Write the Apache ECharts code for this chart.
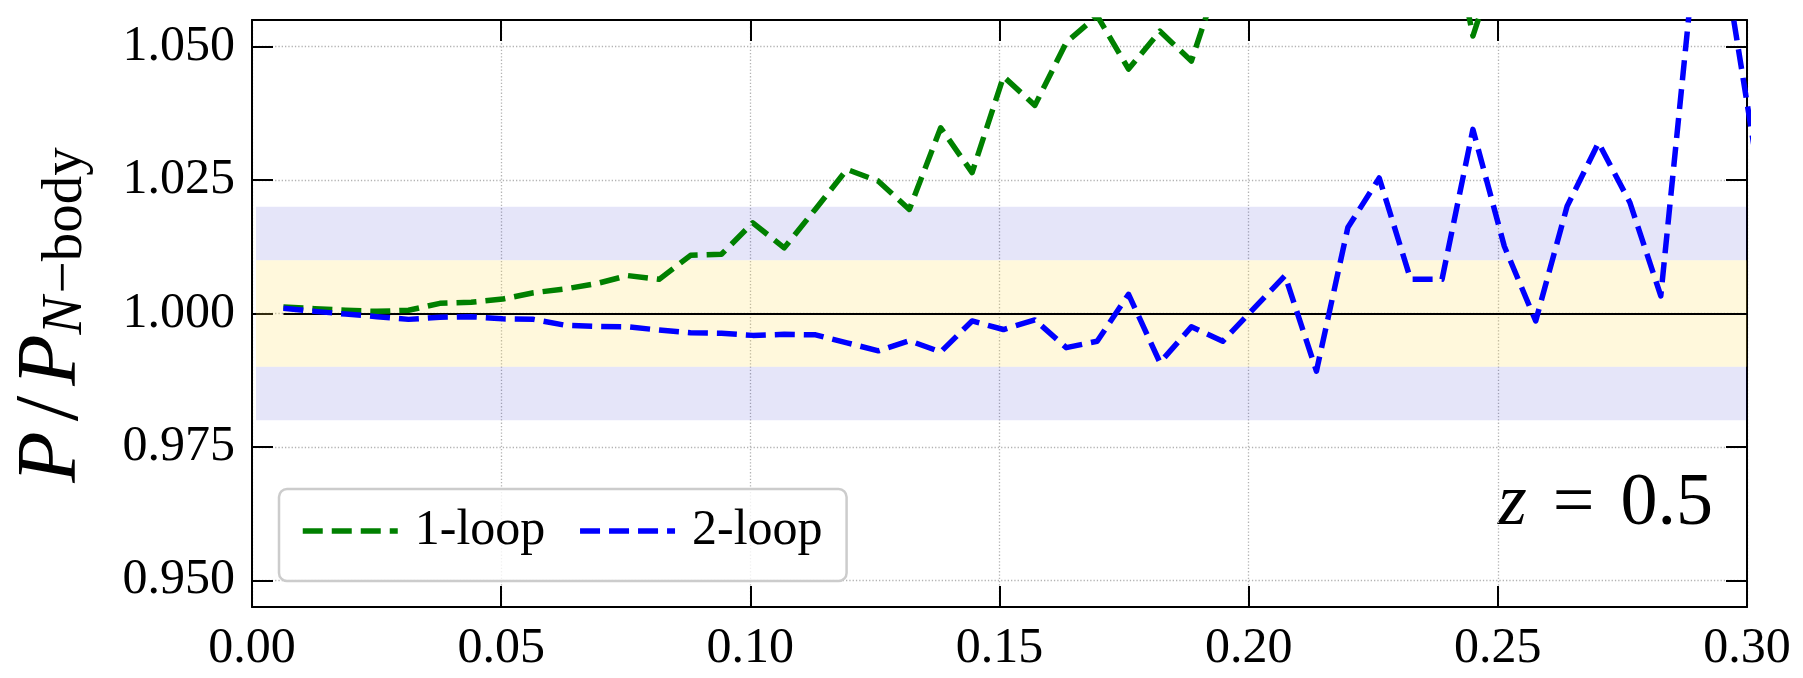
<!DOCTYPE html>
<html>
<head>
<meta charset="utf-8">
<title>P / P_N-body at z = 0.5</title>
<script src="https://cdn.jsdelivr.net/npm/echarts@6/dist/echarts.min.js"></script>
<style>
  html, body { margin: 0; padding: 0; background: #ffffff; }
  #chart { width: 1803px; height: 678px; }
</style>
</head>
<body>
<div id="chart"></div>
<script>
// Wavenumbers k [h/Mpc] of the measured bins
const kValues = [
  0.0063, 0.0126, 0.0188, 0.0251, 0.0314, 0.0377, 0.0440, 0.0503, 0.0565, 0.0628,
  0.0691, 0.0754, 0.0817, 0.0880, 0.0942, 0.1005, 0.1068, 0.1131, 0.1194, 0.1257,
  0.1319, 0.1382, 0.1445, 0.1508, 0.1571, 0.1634, 0.1696, 0.1759, 0.1822, 0.1885,
  0.1948, 0.2011, 0.2073, 0.2136, 0.2199, 0.2262, 0.2325, 0.2388, 0.2450, 0.2513,
  0.2576, 0.2639, 0.2702, 0.2765, 0.2827, 0.2890, 0.2953, 0.3016
];

// Ratio of the 1-loop prediction to the N-body spectrum
const oneLoop = [
  1.0012, 1.0009, 1.0006, 1.0004, 1.0006, 1.0019, 1.0021, 1.0027, 1.0039, 1.0046,
  1.0056, 1.0071, 1.0064, 1.0109, 1.0111, 1.0170, 1.0123, 1.0196, 1.0270, 1.0248,
  1.0195, 1.0348, 1.0264, 1.0444, 1.0390, 1.0508, 1.0558, 1.0458, 1.0529, 1.0473,
  1.0650, 1.0630, 1.0700, 1.0680, 1.0750, 1.0720, 1.0790, 1.0810, 1.0520, 1.0700,
  1.0850, 1.0820, 1.0900, 1.0880, 1.0960, 1.0930, 1.1010, 1.0990
];

// Ratio of the 2-loop prediction to the N-body spectrum
const twoLoop = [
  1.0010, 1.0004, 0.9999, 0.9994, 0.9989, 0.9993, 0.9994, 0.9990, 0.9989, 0.9978,
  0.9976, 0.9975, 0.9969, 0.9964, 0.9963, 0.9959, 0.9961, 0.9960, 0.9945, 0.9930,
  0.9949, 0.9928, 0.9986, 0.9970, 0.9988, 0.9936, 0.9948, 1.0036, 0.9908, 0.9975,
  0.9948, 1.0010, 1.0071, 0.9892, 1.0161, 1.0254, 1.0064, 1.0064, 1.0345, 1.0126,
  0.9986, 1.0201, 1.0320, 1.0208, 1.0033, 1.0620, 1.0668, 1.0302
];

// Tolerance bands: +-1% and +-2%
const innerBand = [0.99, 1.01];
const outerBand = [0.98, 1.02];

// Axis ranges and tick positions
const xRange = [0, 0.30];
const xStep = 0.05;
const yRange = [0.945, 1.055];
const yTicks = [0.950, 0.975, 1.000, 1.025, 1.050];
const bandStart = 0.0008;

const FONT = "'Liberation Serif', 'Times New Roman', serif";

const chart = echarts.init(document.getElementById('chart'), null, { renderer: 'canvas' });

const pairs = (ys) => kValues.map((k, i) => [k, ys[i]]);

const frameLine = { show: true, onZero: false, lineStyle: { color: '#000', width: 2 } };
const innerTick = { show: true, inside: true, length: 21, lineStyle: { color: '#000', width: 2 } };
const gridDots = { show: true, lineStyle: { color: '#b3b3b3', width: 1.3, type: [1.3, 2] } };

const LINE_W = 5.5;
const DASH = [20, 9];
const dashed = (color) => ({ color: color, width: LINE_W, type: DASH, cap: 'butt', join: 'round' });

const option = {
  backgroundColor: '#ffffff',
  animation: false,
  grid: { left: 252, right: 56, top: 20, bottom: 71, containLabel: false },
  xAxis: [
    {
      type: 'value', position: 'bottom', min: xRange[0], max: xRange[1], interval: xStep,
      axisLine: frameLine, axisTick: innerTick,
      axisLabel: {
        show: true, margin: 17, color: '#000', fontFamily: FONT, fontSize: 50,
        formatter: (v) => v.toFixed(2)
      },
      splitLine: gridDots
    },
    {
      type: 'value', position: 'top', min: xRange[0], max: xRange[1], interval: xStep,
      axisLine: frameLine, axisTick: innerTick,
      axisLabel: { show: false }, splitLine: { show: false }
    }
  ],
  yAxis: [
    {
      type: 'value', position: 'left', min: yRange[0], max: yRange[1],
      axisLine: frameLine,
      axisTick: Object.assign({ customValues: yTicks }, innerTick),
      axisLabel: {
        show: true, margin: 17, color: '#000', fontFamily: FONT, fontSize: 50,
        customValues: yTicks,
        formatter: (v) => v.toFixed(3)
      },
      splitLine: gridDots
    },
    {
      type: 'value', position: 'right', min: yRange[0], max: yRange[1],
      axisLine: frameLine,
      axisTick: Object.assign({ customValues: yTicks }, innerTick),
      axisLabel: { show: false, customValues: yTicks }, splitLine: { show: false }
    }
  ],
  legend: {
    data: ['1-loop', '2-loop'],
    left: 279, top: 489, orient: 'horizontal',
    itemWidth: 95, itemHeight: 20, itemGap: 32,
    padding: [17, 24, 25, 21],
    borderColor: '#cccccc', borderWidth: 2.5, borderRadius: 8,
    backgroundColor: 'rgba(255,255,255,0.8)',
    itemStyle: { opacity: 0 },
    lineStyle: { width: LINE_W, type: DASH, cap: 'butt' },
    textStyle: { fontFamily: FONT, fontSize: 50, color: '#000', padding: [0, 0, 0, 12] }
  },
  graphic: [
    {
      type: 'text', x: 53, y: 315, rotation: Math.PI / 2, silent: true,
      style: {
        text: '{P|P}{s|/}{P|P}{N|N}{b|\u2212body}',
        align: 'center', verticalAlign: 'middle',
        textAlign: 'center', textVerticalAlign: 'middle',
        rich: {
          P: { fontFamily: FONT, fontStyle: 'italic', fontSize: 84, lineHeight: 84, fill: '#000', color: '#000' },
          s: { fontFamily: FONT, fontSize: 92, lineHeight: 84, fill: '#000', color: '#000', padding: [0, 10, 0, 10] },
          N: { fontFamily: FONT, fontStyle: 'italic', fontSize: 57, lineHeight: 28, verticalAlign: 'bottom', fill: '#000', color: '#000', padding: [0, 3, 0, 0] },
          b: { fontFamily: FONT, fontSize: 57, lineHeight: 28, verticalAlign: 'bottom', fill: '#000', color: '#000' }
        }
      }
    },
    {
      type: 'text', x: 1713, y: 505, silent: true,
      style: {
        text: '{z|z}{e|=}{n|0.5}',
        align: 'right', verticalAlign: 'middle',
        textAlign: 'right', textVerticalAlign: 'middle',
        rich: {
          z: { fontFamily: FONT, fontStyle: 'italic', fontSize: 74, lineHeight: 80, fill: '#000', color: '#000' },
          e: { fontFamily: FONT, fontSize: 74, lineHeight: 80, fill: '#000', color: '#000', padding: [0, 26, 0, 26] },
          n: { fontFamily: FONT, fontSize: 74, lineHeight: 80, fill: '#000', color: '#000' }
        }
      }
    }
  ],
  series: [
    {
      name: 'bands', type: 'line', data: [], silent: true, z: 1,
      markArea: {
        silent: true,
        data: [
          [{ xAxis: bandStart, yAxis: outerBand[0], itemStyle: { color: 'rgba(0,0,200,0.1)' } }, { xAxis: xRange[1], yAxis: innerBand[0] }],
          [{ xAxis: bandStart, yAxis: innerBand[1], itemStyle: { color: 'rgba(0,0,200,0.1)' } }, { xAxis: xRange[1], yAxis: outerBand[1] }],
          [{ xAxis: bandStart, yAxis: innerBand[0], itemStyle: { color: 'rgba(255,220,80,0.2)' } }, { xAxis: xRange[1], yAxis: innerBand[1] }]
        ]
      },
      markLine: {
        silent: true, z: 1, symbol: ['none', 'none'],
        label: { show: false },
        lineStyle: { color: '#000', width: 1.8, type: 'solid' },
        data: [[{ coord: [kValues[0], 1] }, { coord: [xRange[1], 1] }]]
      }
    },
    {
      name: '1-loop', type: 'line', data: pairs(oneLoop), z: 3,
      symbol: 'none', showSymbol: false, smooth: false, clip: true,
      lineStyle: dashed('#008000'), itemStyle: { color: '#008000' }
    },
    {
      name: '2-loop', type: 'line', data: pairs(twoLoop), z: 3,
      symbol: 'none', showSymbol: false, smooth: false, clip: true,
      lineStyle: dashed('#0000ff'), itemStyle: { color: '#0000ff' }
    }
  ]
};

chart.setOption(option);
</script>
</body>
</html>
